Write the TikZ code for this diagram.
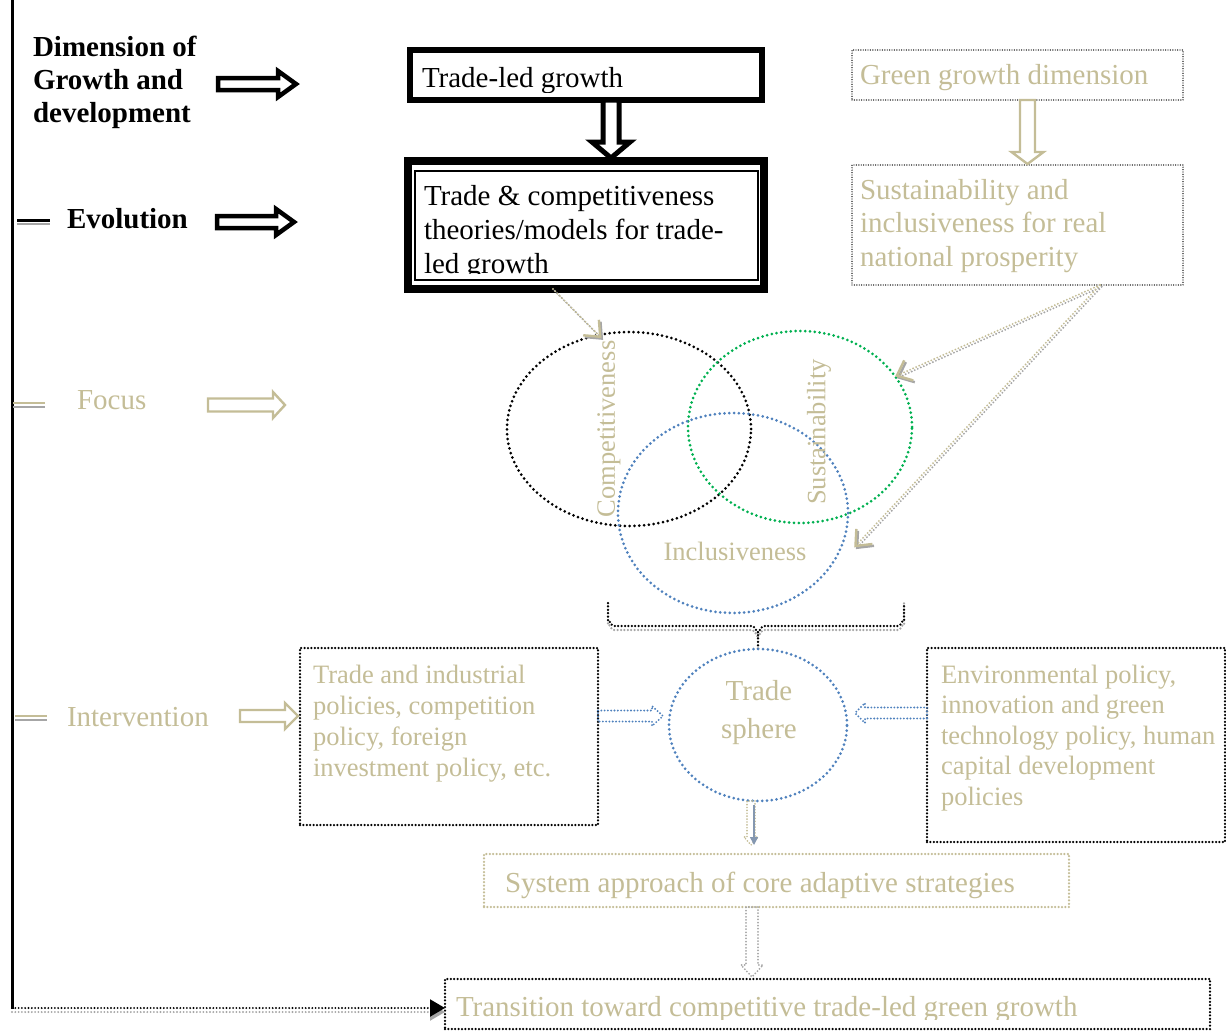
\documentclass[tikz,border=0pt]{standalone}
\usepackage{fontspec}
\setmainfont{Liberation Serif}
\usetikzlibrary{shapes.geometric,arrows.meta,calc}

\definecolor{sand}{HTML}{C4BD97}
\definecolor{ashgrey}{HTML}{A6A6A6}
\definecolor{wblue}{HTML}{4F81BD}
\definecolor{wgreen}{HTML}{00B050}
\definecolor{slate}{HTML}{8497B0}

% hollow block arrow: style, start, rotation, length, shaft half-width, head half-width, head length
\newcommand\blockarrow[7]{%
  \draw[#1,shift={(#2)},rotate=#3] (0,-#5) -- (#4-#7,-#5) -- (#4-#7,-#6) -- (#4,0)
    -- (#4-#7,#6) -- (#4-#7,#5) -- (0,#5) -- cycle;}

% dotted two-tone pointer with an open barb
\newcommand\pointer[2]{%
  \draw[pdots,ashgrey,-{Straight Barb[length=13pt,width=22pt,line width=2.4pt]},
        transform canvas={shift={(1.6pt,-1.8pt)}}] #1 -- #2;
  \draw[pdots,sand,-{Straight Barb[length=13pt,width=22pt,line width=2.4pt]}] #1 -- #2;}

\begin{document}
\begin{tikzpicture}[x=1pt,y=-1pt,
  big/.style={font=\fontsize{29}{33.5}\selectfont},
  mid/.style={font=\fontsize{26.5}{31}\selectfont},
  lbl/.style={big,anchor=base west,inner sep=0,outer sep=0},
  mlbl/.style={mid,anchor=base west,inner sep=0,outer sep=0,text=sand},
  fine dots/.style={line width=1.4,dash pattern=on 0pt off 2.4pt,line cap=round},
  box dots/.style={line width=2.5,dash pattern=on 0pt off 3.4pt,line cap=round},
  ring dots/.style={line width=3,dash pattern=on 0pt off 4.8pt,line cap=round},
  pdots/.style={line width=2.1,dash pattern=on 0pt off 3.3pt,line cap=round},
  plainbox/.style={rectangle,inner sep=0,outer sep=0},
  ring/.style={ellipse,inner sep=0,outer sep=0,draw,ring dots},
  hollow/.style={draw=sand,line width=2.4,fill=white,line join=miter},
  heavy/.style={draw=black,line width=4.5,fill=white,line join=miter}]

\useasboundingbox (0,0) rectangle (1226,1031);

% ---------- left time line with its stages ----------
\draw[line width=3] (12,0) -- (12,1009);

\node[lbl,font=\fontsize{29}{33.5}\selectfont\bfseries] (d1) at (33,56) {Dimension of};
\node[lbl,font=\fontsize{29}{33.5}\selectfont\bfseries] (d2) at (33,89) {Growth and};
\node[lbl,font=\fontsize{29}{33.5}\selectfont\bfseries] (d3) at (33,122) {development};
\blockarrow{heavy}{218,84}{0}{78}{6}{13}{18}

\draw[ashgrey,line width=2] (17,224) -- (50,224);
\draw[line width=3] (17,220) -- (50,220);
\node[lbl,font=\fontsize{29}{33.5}\selectfont\bfseries] (evo) at (67,228) {Evolution};
\blockarrow{heavy}{217,222}{0}{77}{6}{13}{18}

\draw[ashgrey,line width=2.2] (13,407) -- (45,407);
\draw[sand,line width=2.6] (13,403) -- (45,403);
\node[lbl,text=sand] (foc) at (77,409) {Focus};
\blockarrow{hollow}{208,405}{0}{77}{6.5}{13}{12}

\draw[ashgrey,line width=2.2] (15,720) -- (47,720);
\draw[sand,line width=2.6] (15,716) -- (47,716);
\node[lbl,text=sand] (itv) at (67,726) {Intervention};

% ---------- trade-led growth column ----------
\node[plainbox,draw,line width=6,minimum width=352,minimum height=50] (tl) at (586,75) {};
\begin{scope}
  \clip (414,54) rectangle (758,92);
  \node[lbl] (tlt) at (422,87) {Trade-led growth};
\end{scope}

\node[plainbox,draw,line width=8,minimum width=356,minimum height=128] (tc) at (586,225) {};
\draw[line width=1.6] (415,171) rectangle (758,280);
\begin{scope}
  \clip (417,173) rectangle (756,273);
  \node[lbl] (tc1) at (424,205) {Trade \& competitiveness};
  \node[lbl] (tc2) at (424,239) {theories/models for trade-};
  \node[lbl] (tc3) at (424,273) {led growth};
\end{scope}
\blockarrow{draw=black,line width=5,fill=white,line join=miter}{$(tl.south)+(25,0)$}{-90}{58}{8}{19}{16}

% ---------- green growth column ----------
\node[plainbox,draw,fine dots,minimum width=331,minimum height=50] (gg) at (1017.5,75) {};
\node[lbl,text=sand] (ggt) at (860,84) {Green growth dimension};

\node[plainbox,draw,fine dots,minimum width=331,minimum height=120] (sb) at (1017.5,225) {};
\node[lbl,text=sand] (sb1) at (860,199) {Sustainability and};
\node[lbl,text=sand] (sb2) at (860,232.5) {inclusiveness for real};
\node[lbl,text=sand] (sb3) at (860,266) {national prosperity};
\blockarrow{hollow}{$(gg.south)+(10,0)$}{-90}{64}{7.5}{16}{12}

% ---------- three focus rings ----------
\node[ring,draw=black,minimum width=244,minimum height=194] (ec) at (629,429) {};
\node[ring,draw=wgreen,minimum width=224,minimum height=192] (eg) at (800,427) {};
\node[ring,draw=wblue,minimum width=230,minimum height=200] (eb) at (733,513) {};
\node[mid,text=sand,rotate=90,inner sep=0] (ect) at (609,429) {Competitiveness};
\node[mid,text=sand,rotate=90,inner sep=0] (egt) at (819,432) {Sustainability};
\node[mid,text=sand,inner sep=0] (ebt) at (735,551) {Inclusiveness};

\pointer{($(tc.south)+(-33,0)$)}{($(ec.108)+(3,3)$)}
\pointer{($(sb.south east)+(-83,0)$)}{($(eg.28)+(0,0)$)}
\pointer{($(sb.south east)+(-83,0)$)}{($(eb.-16)+(12,3)$)}

% ---------- bracket gathering the rings ----------
\coordinate (bl) at (608,603);
\coordinate (br) at (904,603);
\coordinate (bt) at (758,650);
\foreach \dy/\col in {4/ashgrey,0/black}{
  \draw[box dots,draw=\col,shift={(0,\dy)}] (bl) -- (608,620) to[out=90,in=180] (614,626) -- (752,626)
    to[out=0,in=-90] (758,632) -- ($(bt)+(0,-\dy)$);
  \draw[box dots,draw=\col,shift={(0,\dy)}] (758,632) to[out=-90,in=180] (764,626) -- (898,626)
    to[out=0,in=90] (904,620) -- (br);
}

% ---------- trade sphere and policy boxes ----------
\node[ring,draw=wblue,minimum width=178,minimum height=152] (ts) at (758,725) {};
\node[big,text=sand,anchor=base,inner sep=0] (ts1) at (759,700) {Trade};
\node[big,text=sand,anchor=base,inner sep=0] (ts2) at (759,738) {sphere};

\node[plainbox,draw,box dots,minimum width=298,minimum height=177] (li) at (449,736.5) {};
\node[mlbl] (li1) at (313,683) {Trade and industrial};
\node[mlbl] (li2) at (313,714) {policies, competition};
\node[mlbl] (li3) at (313,745) {policy, foreign};
\node[mlbl] (li4) at (313,776) {investment policy, etc.};

\node[plainbox,draw,box dots,minimum width=298,minimum height=194] (ri) at (1076,745) {};
\node[mlbl] (ri1) at (941,683) {Environmental policy,};
\node[mlbl] (ri2) at (941,713.5) {innovation and green};
\node[mlbl] (ri3) at (941,744) {technology policy, human};
\node[mlbl] (ri4) at (941,774.5) {capital development};
\node[mlbl] (ri5) at (941,805) {policies};

\blockarrow{hollow}{$(li.west)+(-60,-20.5)$}{0}{58}{6}{13}{13}
\blockarrow{draw=wblue,line width=2.1,dash pattern=on 0pt off 3.3pt,line cap=round}{$(li.east)+(0,-20.5)$}{0}{65}{5.5}{10}{11}
\blockarrow{draw=wblue,line width=2.1,dash pattern=on 0pt off 3.3pt,line cap=round}{$(ri.west)+(0,-32)$}{180}{72}{5.5}{10}{10}

% ---------- strategies and transition ----------
\node[plainbox,draw=sand,box dots,minimum width=585,minimum height=53] (sa) at (776.5,880.5) {};
\node[lbl,text=sand] (sat) at (505,892) {System approach of core adaptive strategies};

\blockarrow{draw=sand,line width=1.9,dash pattern=on 0pt off 2.9pt,line cap=round}{$(ts.south)+(-7,0)$}{-90}{44}{4}{7}{8}
\draw[slate,line width=1.6,-{Triangle[length=8pt,width=8pt]}] ($(ts.south)+(-4,4)$) -- ($(sa.north)+(-22.5,-9)$);

\blockarrow{draw=ashgrey,line width=2,dash pattern=on 0pt off 3.1pt,line cap=round}{$(sa.south)+(-24.5,0)$}{-90}{70}{6}{11}{12}

\node[plainbox,draw,box dots,minimum width=765,minimum height=50] (tt) at (827.5,1004) {};
\begin{scope}
  \clip (447,981) rectangle (1208,1019);
  \node[lbl,text=sand] (ttt) at (456,1016) {Transition toward competitive trade-led green growth};
\end{scope}

\draw[ashgrey,pdots,-{Triangle[length=15pt,width=17pt]}] (12,1012) -- ($(tt.west)+(0,8)$);
\draw[black,pdots,-{Triangle[length=15pt,width=17pt]}] (12,1008) -- ($(tt.west)+(0,4)$);
\end{tikzpicture}
\end{document}
